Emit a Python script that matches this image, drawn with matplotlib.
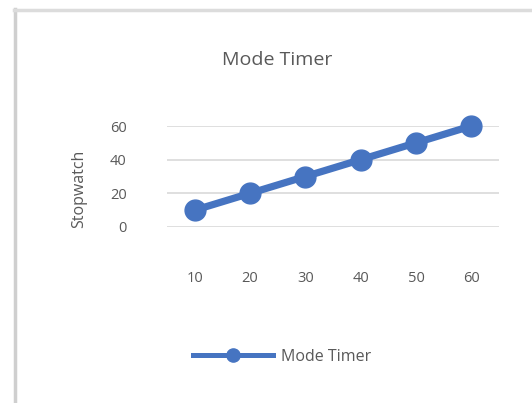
import matplotlib
matplotlib.use("Agg")
import matplotlib.pyplot as plt
from matplotlib.lines import Line2D

categories = ["10", "20", "30", "40", "50", "60"]
values = [10, 20, 30, 40, 50, 60]
y_ticks = [0, 20, 40, 60]
title = "Mode Timer"
y_label = "Stopwatch"
series_name = "Mode Timer"

plt.rcParams['font.family'] = ['Open Sans', 'DejaVu Sans']
text_color = '#595959'
line_color = '#4674C1'

W, H = 532, 403
fig = plt.figure(figsize=(W/100, H/100), dpi=100)
fig.patch.set_facecolor('white')

ax = fig.add_axes([167/W, 1-227/H, (499-167)/W, (227-126)/H])
x = list(range(len(categories)))
ax.plot(x, values, color=line_color, lw=5.2, marker='o', markersize=15,
        solid_capstyle='round', clip_on=False, zorder=3)
ax.set_xlim(-0.5, len(categories)-0.5)
ax.set_ylim(0, 60)
ax.set_yticks(y_ticks)
ax.set_xticks(x)
ax.set_xticklabels(categories)
for s in ax.spines.values():
    s.set_visible(False)
ax.grid(axis='y', color='#d9d9d9', lw=1.2)
ax.set_axisbelow(True)
ax.tick_params(axis='both', length=0, colors=text_color, labelsize=10.5)
ax.tick_params(axis='x', pad=32)
ax.tick_params(axis='y', pad=29)

fig.text(79/W, 1-189/H, y_label, rotation=90, ha='center', va='center',
         color=text_color, fontsize=11.5)
fig.text(277/W, 1-60/H, title, ha='center', va='center', color=text_color, fontsize=14)

handle = Line2D([0], [0], color=line_color, lw=3.6, marker='o', markersize=9.5)
fig.legend([handle], [series_name], loc='center left', bbox_to_anchor=(193/W, 1-357/H),
           frameon=False, handlelength=5.0, fontsize=11.5, labelcolor=text_color,
           handletextpad=0.5, borderpad=0, borderaxespad=0)

# chart border
fig.add_artist(Line2D([15/W, 15/W], [0, 1-9/H], color='#cfcfcf', lw=2.5, transform=fig.transFigure))
fig.add_artist(Line2D([14/W, 1], [1-10/H, 1-10/H], color='#dcdcdc', lw=2.5, transform=fig.transFigure))

fig.savefig("out.png", dpi=100)
